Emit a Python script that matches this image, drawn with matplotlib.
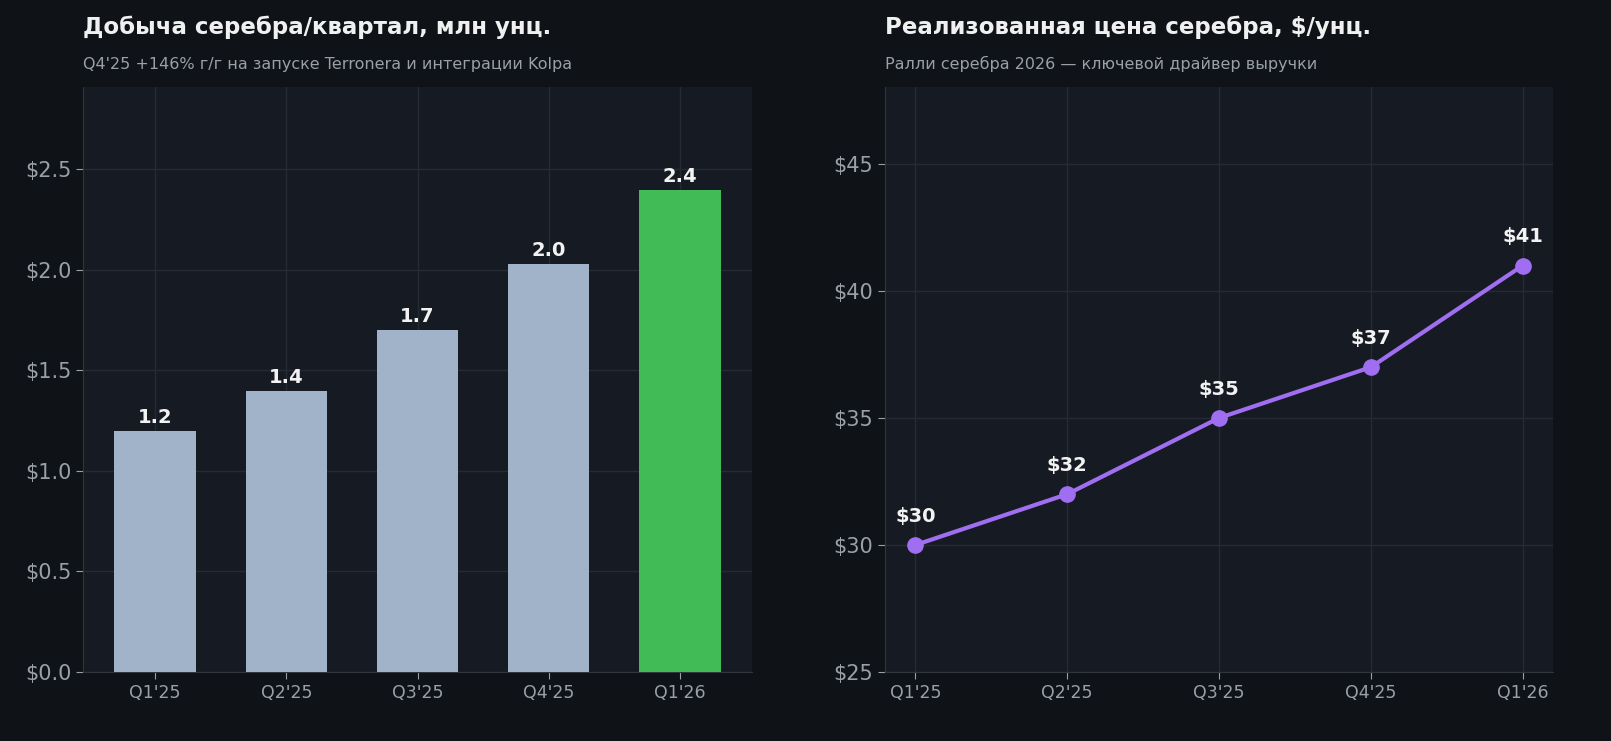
import matplotlib
matplotlib.use("Agg")
import matplotlib.pyplot as plt
from matplotlib.ticker import FuncFormatter

quarters = ["Q1'25", "Q2'25", "Q3'25", "Q4'25", "Q1'26"]
production = [1.2, 1.4, 1.7, 2.03, 2.4]
price = [30, 32, 35, 37, 41]

FIG_BG = "#0f1317"
AX_BG = "#161a23"
GRID = "#252a33"
TICK = "#9aa0a8"

plt.rcParams['font.family'] = ['DejaVu Sans']
fig = plt.figure(figsize=(16.11, 7.41), dpi=100, facecolor=FIG_BG)
ax1 = fig.add_axes([83/1611, 1-672/741, (752-83)/1611, (672-87)/741])
ax2 = fig.add_axes([885/1611, 1-672/741, (1553-885)/1611, (672-87)/741])

for ax in (ax1, ax2):
    ax.set_facecolor(AX_BG)
    ax.grid(True, color=GRID, linewidth=1)
    ax.set_axisbelow(True)
    for s in ("top", "right"):
        ax.spines[s].set_visible(False)
    for s in ("left", "bottom"):
        ax.spines[s].set_color("#30353d")
    ax.tick_params(axis="y", colors=TICK, labelsize=15, length=5)
    ax.tick_params(axis="x", colors=TICK, labelsize=12.5, length=5)

x = list(range(len(quarters)))
colors = ["#a0b3c8"] * 4 + ["#41bb55"]
ax1.bar(x, production, width=0.62, color=colors, zorder=3)
for xi, v in zip(x, production):
    ax1.text(xi, v + 0.02, f"{v:.1f}", ha="center", va="bottom", color="#f2f2f2",
             fontsize=14, fontweight="bold", zorder=4)
ax1.set_xlim(-0.55, 4.55)
ax1.set_ylim(0, 2.91)
ax1.set_yticks([0, 0.5, 1.0, 1.5, 2.0, 2.5])
ax1.yaxis.set_major_formatter(FuncFormatter(lambda v, p: f"${v:.1f}"))
ax1.set_xticks(x)
ax1.set_xticklabels(quarters)

ax2.plot(x, price, color="#a06ef0", linewidth=3, marker="o", markersize=11, zorder=3)
for xi, v in zip(x, price):
    ax2.annotate(f"${v}", (xi, v), xytext=(0, 14), textcoords="offset points",
                 ha="center", va="bottom", color="#f2f2f2", fontsize=14, fontweight="bold")
ax2.set_xlim(-0.2, 4.2)
ax2.set_ylim(25, 48.03)
ax2.set_yticks([25, 30, 35, 40, 45])
ax2.yaxis.set_major_formatter(FuncFormatter(lambda v, p: f"${v:.0f}"))
ax2.set_xticks(x)
ax2.set_xticklabels(quarters)

fig.text(83/1611, 1-27/741, "Добыча серебра/квартал, млн унц.", color="#f0f0f0",
         fontsize=16.5, fontweight="bold", va="center")
fig.text(83/1611, 1-64/741, "Q4'25 +146% г/г на запуске Terronera и интеграции Kolpa",
         color="#9aa0a8", fontsize=11.5, va="center")
fig.text(885/1611, 1-27/741, "Реализованная цена серебра, $/унц.", color="#f0f0f0",
         fontsize=16.5, fontweight="bold", va="center")
fig.text(885/1611, 1-64/741, "Ралли серебра 2026 — ключевой драйвер выручки",
         color="#9aa0a8", fontsize=11.5, va="center")

fig.savefig("out.png", dpi=100, facecolor=FIG_BG)
